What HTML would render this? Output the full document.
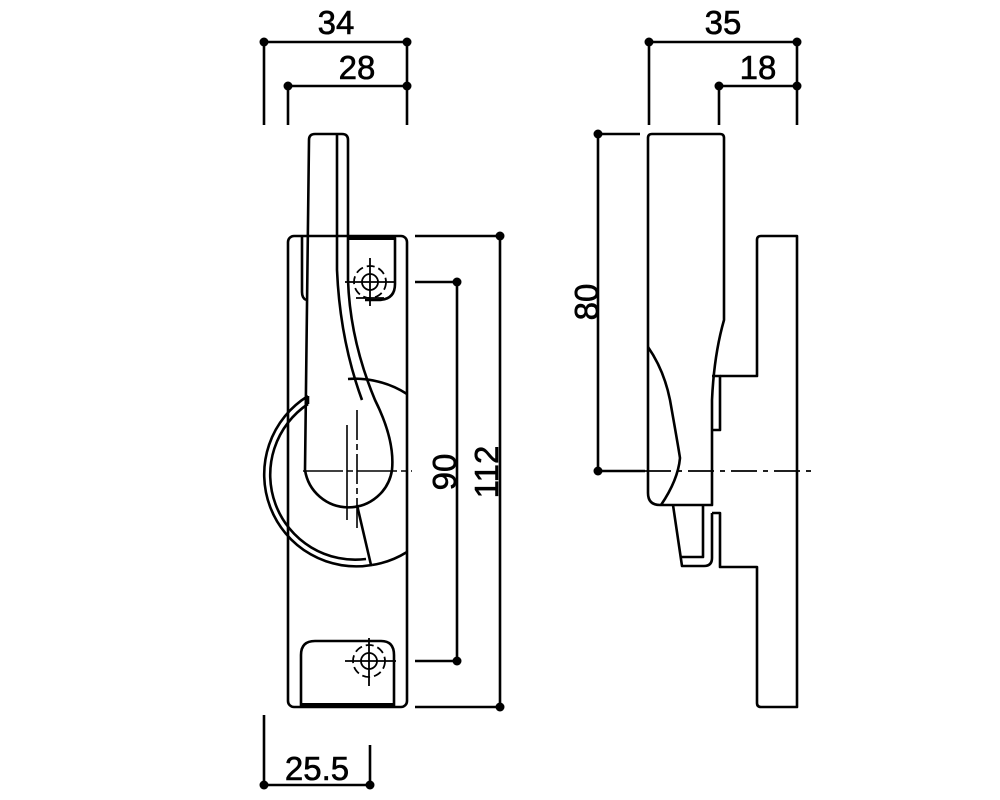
<!DOCTYPE html>
<html><head><style>html,body{margin:0;padding:0;background:#fff}svg{display:block}</style></head><body>
<svg width="1000" height="800" viewBox="0 0 1000 800" xmlns="http://www.w3.org/2000/svg" font-family="Liberation Sans, Arial, sans-serif">
<g fill="none" stroke="#000" stroke-width="2.6" stroke-linejoin="round">
<line x1="264" y1="42" x2="407" y2="42"/>
<line x1="264" y1="42" x2="264" y2="125"/>
<line x1="407" y1="42" x2="407" y2="125"/>
<line x1="288" y1="86" x2="407" y2="86"/>
<line x1="288" y1="86" x2="288" y2="125"/>
<rect x="288" y="236" width="119" height="471" rx="6"/>
<path d="M302 236 V292 Q302 298 306 300"/>
<path d="M348 238 H395 V284 Q395 300 378 300 H365"/>
<line x1="348" y1="238" x2="395" y2="238" stroke-width="4"/>
<path d="M301 706 V655 Q301 641 315 641 H381 Q394 641 394 655 V706"/>
<line x1="301" y1="705" x2="394" y2="705" stroke-width="4"/>
<path d="M308 396 A92 92 0 0 0 372 565"/>
<path d="M308 404 A85 85 0 0 0 366 559"/>
<line x1="308" y1="396" x2="308" y2="404"/>
<path d="M348 379 A96 96 0 0 1 407 394"/>
<path d="M372 565 A92 92 0 0 0 407 552"/>
<line x1="357" y1="505" x2="371" y2="565"/>
<path d="M305 470 L309 140 Q309 134 315 134 H342 Q348 134 348 140 L348 280 Q350 340 375 400 Q395 440 392 470 A44 44 0 0 1 305 470"/>
<path d="M337 134 L337 270 Q340 340 362 400"/>
<line x1="303" y1="471" x2="412" y2="471" stroke-width="1.6" stroke-dasharray="40 4 6 4"/>
<line x1="357" y1="410" x2="357" y2="532" stroke-width="1.6" stroke-dasharray="30 4 6 4"/>
<line x1="347" y1="425" x2="347" y2="520" stroke-width="1.6"/>
<g stroke-width="1.8">
<circle cx="370" cy="282" r="16" stroke-dasharray="8 4"/>
<circle cx="370" cy="282" r="8"/>
<line x1="345" y1="282" x2="396" y2="282"/>
<line x1="370" y1="258" x2="370" y2="306"/>
<line x1="356" y1="298" x2="384" y2="298"/>
<circle cx="369" cy="661" r="16" stroke-dasharray="8 4"/>
<circle cx="369" cy="661" r="8"/>
<line x1="345" y1="661" x2="396" y2="661"/>
<line x1="369" y1="638" x2="369" y2="686"/>
</g>
<line x1="415" y1="236" x2="500" y2="236"/>
<line x1="415" y1="707" x2="500" y2="707"/>
<line x1="500" y1="236" x2="500" y2="707"/>
<line x1="415" y1="282" x2="457" y2="282"/>
<line x1="415" y1="661" x2="457" y2="661"/>
<line x1="457" y1="282" x2="457" y2="661"/>
<line x1="264" y1="715" x2="264" y2="785"/>
<line x1="370" y1="745" x2="370" y2="785"/>
<line x1="264" y1="785" x2="370" y2="785"/>

<line x1="649" y1="42" x2="797" y2="42"/>
<line x1="649" y1="42" x2="649" y2="125"/>
<line x1="797" y1="42" x2="797" y2="125"/>
<line x1="719" y1="86" x2="797" y2="86"/>
<line x1="719" y1="86" x2="719" y2="125"/>
<line x1="598" y1="134" x2="640" y2="134"/>
<line x1="598" y1="134" x2="598" y2="471"/>
<line x1="598" y1="471" x2="645" y2="471"/>
<line x1="645" y1="471" x2="815" y2="471" stroke-width="1.8" stroke-dasharray="26 6 5 6"/>
<path d="M648 138 Q648 134 652 134 H720 Q724 134 724 138 V320 Q714 355 712 400 V505 H660 Q648 505 648 493 Z"/>
<path d="M648 347 Q664 370 670 400 Q678 445 680 458 Q678 480 661 505"/>
<path d="M712 376 H720 V430 H712"/>
<path d="M720 376 H757 V240 Q757 236 761 236 H797 V707 H761 Q757 707 757 703 V567 H720 V513 H712"/>
<path d="M673 505 L682 566 H704 Q712 566 712 558 V513"/>
<path d="M703 505 V557 H681"/>
</g>
<g fill="#000">
<circle cx="264" cy="42" r="4.5"/><circle cx="407" cy="42" r="4.5"/>
<circle cx="288" cy="86" r="4.5"/><circle cx="407" cy="86" r="4.5"/>
<circle cx="500" cy="236" r="4.5"/><circle cx="500" cy="707" r="4.5"/>
<circle cx="457" cy="282" r="4.5"/><circle cx="457" cy="661" r="4.5"/>
<circle cx="264" cy="785" r="4.5"/><circle cx="370" cy="785" r="4.5"/>
<circle cx="649" cy="42" r="4.5"/><circle cx="797" cy="42" r="4.5"/>
<circle cx="719" cy="86" r="4.5"/><circle cx="797" cy="86" r="4.5"/>
<circle cx="598" cy="134" r="4.5"/><circle cx="598" cy="471" r="4.5"/>
</g>
<g font-size="33" fill="#000" text-anchor="middle" stroke="#000" stroke-width="0.6">
<text x="336" y="34">34</text>
<text x="357" y="79">28</text>
<text x="723" y="34">35</text>
<text x="758" y="79">18</text>
<text x="317" y="780">25.5</text>
<text transform="translate(456,472) rotate(-90)">90</text>
<text transform="translate(498,472) rotate(-90)">112</text>
<text transform="translate(598,302) rotate(-90)">80</text>
</g>
</svg>
</body></html>
